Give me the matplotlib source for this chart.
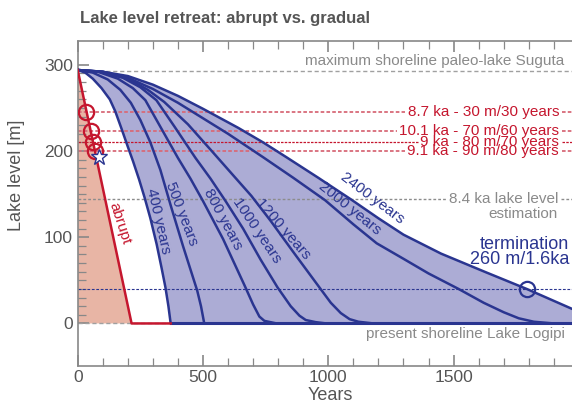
import matplotlib
matplotlib.use("Agg")
import matplotlib.pyplot as plt
from matplotlib.ticker import MultipleLocator
import numpy as np

plt.rcParams['font.family'] = ['Liberation Sans', 'DejaVu Sans']

# ---- data -------------------------------------------------------------
max_level = 293          # maximum shoreline paleo-lake Suguta [m]
estimate_84ka = 144      # 8.4 ka lake level estimation [m]
termination_level = 40   # termination line [m]

abrupt_years = [0, 215, 371]
abrupt_level = [294, 0, 0]

c400_years = [0, 30, 60, 95, 128, 150, 176, 200, 221, 245, 267, 290, 315, 335, 350, 362, 371]
c400_level = [294, 291, 284, 273, 260, 246, 225, 205, 188, 167, 146, 122, 92, 64, 42, 20, 0]

c500_years = [0, 60, 120, 170, 212, 250, 290, 330, 370, 420, 477, 492, 505]
c500_level = [294, 291, 283, 271, 256, 236, 210, 178, 138, 90, 38, 20, 0]

c800_years = [0, 80, 160, 220, 270, 334, 400, 450, 500, 580, 666, 700, 725, 745, 794]
c800_level = [294, 292, 284, 273, 259, 226, 192, 168, 142, 98, 44, 22, 8, 3, 0]

c1000_years = [0, 90, 180, 250, 314, 387, 470, 530, 590, 660, 730, 797, 850, 885, 910, 950, 993]
c1000_level = [294, 292, 285, 274, 259, 228, 192, 168, 142, 110, 74, 42, 20, 9, 4, 1.5, 0]

c1200_years = [0, 100, 200, 280, 345, 440, 535, 620, 693, 770, 860, 959, 1010, 1050, 1085, 1120, 1180]
c1200_level = [294, 292, 284, 271, 257, 231, 200, 172, 148, 119, 83, 44, 24, 12, 5, 2, 0]

c2000_years = [0, 100, 200, 300, 400, 500, 600, 739, 860, 987, 1100, 1193, 1300, 1400,
               1520, 1620, 1700, 1760, 1820, 1900, 2000]
c2000_level = [294, 292, 285, 272, 256, 238, 220, 193, 169, 143, 115, 93, 75, 58,
               40, 24, 13, 6, 2, 0, 0]

c2400_years = [0, 100, 200, 300, 400, 500, 640, 740, 832, 960, 1090, 1200, 1300, 1450,
               1632, 1792, 1972, 2000]
c2400_level = [294, 292, 287, 277, 264, 249, 227, 210, 193, 169, 144, 122, 103, 81,
               59, 40, 17, 14]

# dated shorelines along the abrupt retreat
event_levels = [245, 223, 211, 200]
event_years = [34, 52, 61, 70]
event_labels = ["8.7 ka - 30 m/30 years", "10.1 ka - 70 m/60 years",
                "9 ka - 80 m/70 years", "9.1 ka - 90 m/80 years"]
star_year, star_level = 84, 193
termination_year = 1792

# ---- style ------------------------------------------------------------
BLUE = "#2a3590"
FILL_BLUE = "#acacd5"
RED = "#c5162e"
FILL_RED = "#e8b5a5"
GRAY_TXT = "#8a8a8a"
DARK_TXT = "#555555"
SPINE = "#888888"

fig = plt.figure(figsize=(5.72, 4.05), dpi=100)
ax = fig.add_axes([77.7 / 572, 1 - 365.7 / 405, 501.2 / 572, 325.0 / 405])
ax.set_xlim(0, 2000)
ax.set_ylim(-49, 328)

# fills
ax.fill([0, 215, 0], [294, 0, 0], color=FILL_RED, lw=0, zorder=1)
poly_x = list(c2400_years) + [2000, 371] + list(c400_years[::-1])
poly_y = list(c2400_level) + [0, 0] + list(c400_level[::-1])
ax.fill(poly_x, poly_y, color=FILL_BLUE, lw=0, zorder=1)

# reference lines
ax.axhline(max_level, color="#a0a0a0", ls=(0, (3, 2)), lw=1.0, zorder=2)
ax.axhline(0, color="#a0a0a0", ls=(0, (3, 2)), lw=1.0, zorder=2)
ax.axhline(termination_level, color=BLUE, ls=(0, (2.5, 1.5)), lw=0.8, zorder=2)

# curves
for xs, ys in [(c400_years, c400_level), (c500_years, c500_level),
               (c800_years, c800_level), (c1000_years, c1000_level),
               (c1200_years, c1200_level), (c2000_years, c2000_level),
               (c2400_years, c2400_level)]:
    ax.plot(xs, ys, color=BLUE, lw=1.8, zorder=3, solid_joinstyle="round",
            solid_capstyle="round")
ax.plot([371, 2000], [0, 0], color=BLUE, lw=2.2, zorder=3)
ax.plot(abrupt_years, abrupt_level, color=RED, lw=1.8, zorder=3)

# markers
ax.plot(event_years, event_levels, "o", ms=11, mfc="none", mec=RED, mew=1.6, zorder=5)
ax.plot([star_year], [star_level], "*", ms=12, mfc="white", mec=BLUE, mew=1.0, zorder=6)
ax.plot([termination_year], [termination_level], "o", ms=11, mfc="none", mec=BLUE,
        mew=1.6, zorder=5)

# curve labels (placed just above their curves)
curve_labels = [("400 years", 320, 119, -77), ("500 years", 415, 127, -69),
                ("800 years", 579, 121, -62), ("1000 years", 715, 108, -56),
                ("1200 years", 818, 110, -49), ("2000 years", 1084, 133, -39),
                ("2400 years", 1176, 145, -37)]
for txt, x, y, rot in curve_labels:
    ax.text(x, y, txt, color=BLUE, fontsize=11, rotation=rot, ha="center",
            va="center", rotation_mode="anchor", zorder=4)
ax.text(169, 116, "abrupt", color=RED, fontsize=11, rotation=-72, ha="center",
        va="center", rotation_mode="anchor", zorder=4)

# annotations
event_texts = []
for lvl, txt in zip(event_levels, event_labels):
    event_texts.append(ax.text(1921, lvl, txt, color=RED, fontsize=11, ha="right",
                               va="center", zorder=4))
ax.text(1941, 305, "maximum shoreline paleo-lake Suguta", color=GRAY_TXT,
        fontsize=11, ha="right", va="center", zorder=4)
t84 = ax.text(1917, estimate_84ka, "8.4 ka lake level", color=GRAY_TXT, fontsize=11,
              ha="right", va="center", zorder=4)
ax.text(1917, estimate_84ka - 17, "estimation", color=GRAY_TXT, fontsize=11,
        ha="right", va="center", zorder=4)
ax.text(1961, 92, "termination", color=BLUE, fontsize=13, ha="right", va="center", zorder=4)
ax.text(1961, 74, "260 m/1.6ka", color=BLUE, fontsize=13, ha="right", va="center", zorder=4)
ax.text(1945, -12, "present shoreline Lake Logipi", color=GRAY_TXT, fontsize=11,
        ha="right", va="center", zorder=4)

# dashed level lines, interrupted where their label sits
fig.canvas.draw()
renderer = fig.canvas.get_renderer()
inv = ax.transData.inverted()


def broken_hline(level, label, **kw):
    bb = label.get_window_extent(renderer)
    x0 = inv.transform((bb.x0, bb.y0))[0] - 10
    x1 = inv.transform((bb.x1, bb.y0))[0] + 10
    ax.plot([0, x0], [level, level], zorder=2, **kw)
    ax.plot([x1, 2000], [level, level], zorder=2, **kw)


for i, (lvl, t) in enumerate(zip(event_levels, event_texts)):
    if i == 2:
        broken_hline(lvl, t, color=RED, ls=(0, (2, 1)), lw=0.9)
    else:
        broken_hline(lvl, t, color="#d86a78", ls=(0, (2, 1.2)), lw=1.3)
broken_hline(estimate_84ka, t84, color="#8c8c8c", ls=(0, (2, 1.5)), lw=1.0)

# axes styling
for s in ax.spines.values():
    s.set_color(SPINE)
    s.set_linewidth(1.2)
ax.set_xticks([0, 500, 1000, 1500])
ax.xaxis.set_minor_locator(MultipleLocator(100))
ax.set_yticks([0, 100, 200, 300])
ax.set_yticks(np.arange(0, 301, 10), minor=True)
ax.tick_params(axis="both", which="both", direction="in", colors=SPINE,
               labelcolor=DARK_TXT, labelsize=12.5, top=True, right=False)
ax.tick_params(which="major", length=8, width=1.2)
ax.tick_params(which="minor", length=6, width=0.9)
ax.tick_params(axis="x", pad=3)
ax.set_ylabel("Lake level [m]", color=DARK_TXT, fontsize=13)
ax.yaxis.set_label_coords(-0.105, 0.587)
fig.text(330 / 572, 1 - 396 / 405, "Years", color=DARK_TXT, fontsize=13,
         ha="center", va="center")
fig.text(80 / 572, 1 - 18 / 405, "Lake level retreat: abrupt vs. gradual",
         color=DARK_TXT, fontsize=12, fontweight="bold", ha="left", va="center")

fig.savefig("out.png", dpi=100)
